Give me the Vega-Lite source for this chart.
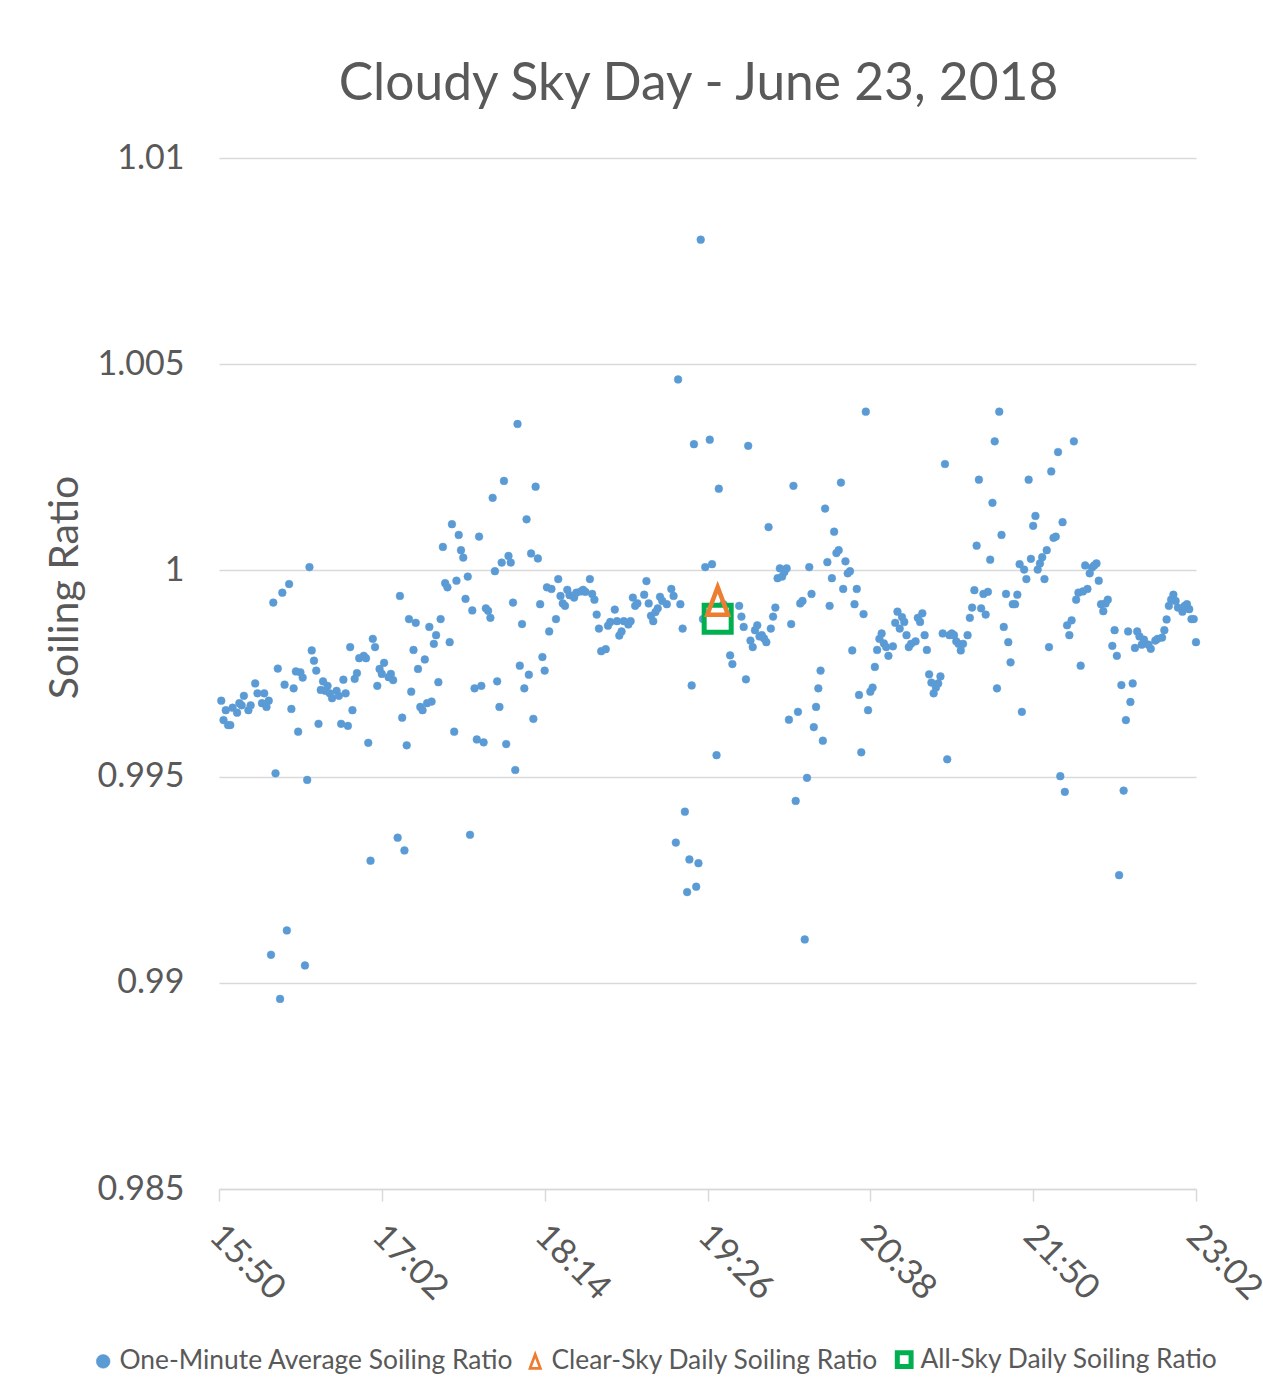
{
  "$schema": "https://vega.github.io/schema/vega-lite/v6.json",
  "width": 977,
  "height": 1031,
  "autosize": {"type": "none"},
  "padding": {"left": 219, "top": 158, "right": 67, "bottom": 204},
  "background": "white",
  "title": {"text": "Cloudy Sky Day - June 23, 2018", "font": "Lato", "fontSize": 51.5, "fontWeight": "normal", "color": "#595959", "anchor": "middle", "offset": 31, "dx": -9},
  "config": {"view": {"stroke": null}, "font": "Lato"},
  "datasets": {
    "minute": [
      {"t":951,"v":0.99684},{"t":952,"v":0.99637},{"t":953,"v":0.99661},{"t":954,"v":0.99625},{"t":955,"v":0.99625},{"t":956,"v":0.99667},{"t":958,"v":0.99655},{"t":959,"v":0.99678},{"t":960,"v":0.99673},{"t":961,"v":0.99696},{"t":963,"v":0.99661},{"t":964,"v":0.99673},{"t":966,"v":0.99726},{"t":967,"v":0.99702},{"t":969,"v":0.99678},{"t":970,"v":0.99702},{"t":971,"v":0.99669},{"t":972,"v":0.99684},{"t":973,"v":0.99068},{"t":974,"v":0.99922},{"t":975,"v":0.99508},{"t":976,"v":0.99762},{"t":977,"v":0.98961},{"t":978,"v":0.99946},{"t":979,"v":0.99723},{"t":980,"v":0.99127},{"t":981,"v":0.99967},{"t":982,"v":0.99664},{"t":983,"v":0.99714},{"t":984,"v":0.99755},{"t":985,"v":0.99609},{"t":986,"v":0.99753},{"t":987,"v":0.9974},{"t":988,"v":0.99042},{"t":989,"v":0.99492},{"t":990,"v":1.00008},{"t":991,"v":0.99806},{"t":992,"v":0.99781},{"t":993,"v":0.99757},{"t":994,"v":0.99628},{"t":995,"v":0.9971},{"t":996,"v":0.99731},{"t":997,"v":0.99708},{"t":998,"v":0.9972},{"t":999,"v":0.99702},{"t":1000,"v":0.9969},{"t":1002,"v":0.99708},{"t":1003,"v":0.99696},{"t":1004,"v":0.99628},{"t":1005,"v":0.99735},{"t":1006,"v":0.99702},{"t":1007,"v":0.99623},{"t":1008,"v":0.99814},{"t":1009,"v":0.99661},{"t":1010,"v":0.99737},{"t":1011,"v":0.99751},{"t":1012,"v":0.99787},{"t":1014,"v":0.99793},{"t":1015,"v":0.99787},{"t":1016,"v":0.99582},{"t":1017,"v":0.99296},{"t":1018,"v":0.99834},{"t":1019,"v":0.99814},{"t":1020,"v":0.9972},{"t":1021,"v":0.99761},
      {"t":1022,"v":0.99749},{"t":1023,"v":0.99776},{"t":1025,"v":0.99741},{"t":1026,"v":0.99749},{"t":1027,"v":0.99734},{"t":1029,"v":0.99352},{"t":1030,"v":0.99938},{"t":1031,"v":0.99643},{"t":1032,"v":0.99321},{"t":1033,"v":0.99576},{"t":1034,"v":0.99882},{"t":1035,"v":0.99706},{"t":1036,"v":0.99807},{"t":1037,"v":0.99873},{"t":1038,"v":0.99761},{"t":1039,"v":0.99669},{"t":1040,"v":0.99661},{"t":1041,"v":0.99784},{"t":1042,"v":0.99678},{"t":1043,"v":0.99863},{"t":1044,"v":0.99682},{"t":1045,"v":0.99822},{"t":1046,"v":0.99843},{"t":1047,"v":0.99729},{"t":1048,"v":0.99882},{"t":1049,"v":1.00057},{"t":1050,"v":0.99969},{"t":1051,"v":0.99959},{"t":1052,"v":0.99826},{"t":1053,"v":1.00112},{"t":1054,"v":0.99609},{"t":1055,"v":0.99975},{"t":1056,"v":1.00086},{"t":1057,"v":1.00049},{"t":1058,"v":1.00031},{"t":1059,"v":0.99931},{"t":1060,"v":0.99985},{"t":1061,"v":0.99359},{"t":1062,"v":0.99903},{"t":1063,"v":0.99714},{"t":1064,"v":0.9959},{"t":1065,"v":1.00082},{"t":1066,"v":0.9972},{"t":1067,"v":0.99583},{"t":1068,"v":0.99908},{"t":1069,"v":0.99902},{"t":1070,"v":0.99885},{"t":1071,"v":1.00176},{"t":1072,"v":0.99998},{"t":1073,"v":0.99731},{"t":1074,"v":0.99669},{"t":1075,"v":1.00019},{"t":1076,"v":1.00217},{"t":1077,"v":0.99579},{"t":1078,"v":1.00035},{"t":1079,"v":1.00019},{"t":1080,"v":0.99922},{"t":1081,"v":0.99516},{"t":1082,"v":1.00355},{"t":1083,"v":0.99769},{"t":1084,"v":0.9987},{"t":1085,"v":0.99714},{"t":1086,"v":1.00124},{"t":1087,"v":0.99747},{"t":1088,"v":1.00041},{"t":1089,"v":0.9964},{"t":1090,"v":1.00203},{"t":1091,"v":1.00029},{"t":1092,"v":0.99918},{"t":1093,"v":0.9979},{"t":1094,"v":0.99757},
      {"t":1095,"v":0.99959},{"t":1096,"v":0.99852},{"t":1097,"v":0.99955},{"t":1099,"v":0.99882},{"t":1100,"v":0.99979},{"t":1101,"v":0.99938},{"t":1102,"v":0.9992},{"t":1103,"v":0.99914},{"t":1104,"v":0.99953},{"t":1105,"v":0.9994},{"t":1107,"v":0.99934},{"t":1108,"v":0.99946},{"t":1110,"v":0.99949},{"t":1111,"v":0.99953},{"t":1112,"v":0.99948},{"t":1114,"v":0.99979},{"t":1115,"v":0.99943},{"t":1116,"v":0.99929},{"t":1117,"v":0.99893},{"t":1118,"v":0.99859},{"t":1119,"v":0.99804},{"t":1121,"v":0.99809},{"t":1122,"v":0.99866},{"t":1123,"v":0.99875},{"t":1125,"v":0.99905},{"t":1126,"v":0.99877},{"t":1127,"v":0.99842},{"t":1128,"v":0.99852},{"t":1129,"v":0.99877},{"t":1131,"v":0.99869},{"t":1132,"v":0.99877},{"t":1133,"v":0.99934},{"t":1134,"v":0.99914},{"t":1135,"v":0.9992},{"t":1138,"v":0.99941},{"t":1139,"v":0.99974},{"t":1140,"v":0.9992},{"t":1141,"v":0.9989},{"t":1142,"v":0.99877},{"t":1143,"v":0.99899},{"t":1144,"v":0.99908},{"t":1145,"v":0.99936},{"t":1146,"v":0.99926},{"t":1148,"v":0.99918},{"t":1150,"v":0.99955},{"t":1151,"v":0.99938},{"t":1152,"v":0.9934},{"t":1153,"v":1.00463},{"t":1154,"v":0.99918},{"t":1155,"v":0.99859},{"t":1156,"v":0.99415},{"t":1157,"v":0.9922},{"t":1158,"v":0.99299},{"t":1159,"v":0.99721},{"t":1160,"v":1.00306},{"t":1161,"v":0.99233},{"t":1162,"v":0.9929},{"t":1163,"v":1.00802},{"t":1164,"v":0.99882},
      {"t":1165,"v":1.00008},{"t":1167,"v":1.00317},{"t":1168,"v":1.00015},{"t":1170,"v":0.99552},{"t":1171,"v":1.00198},{"t":1172,"v":0.99882},{"t":1173,"v":0.99918},{"t":1176,"v":0.99794},{"t":1177,"v":0.99773},{"t":1180,"v":0.99914},{"t":1181,"v":0.99888},{"t":1182,"v":0.99863},{"t":1183,"v":0.99736},{"t":1184,"v":1.00302},{"t":1185,"v":0.9983},{"t":1186,"v":0.99814},{"t":1187,"v":0.99855},{"t":1188,"v":0.99867},{"t":1189,"v":0.9984},{"t":1190,"v":0.99843},{"t":1191,"v":0.99835},{"t":1192,"v":0.99826},{"t":1193,"v":1.00105},{"t":1194,"v":0.99859},{"t":1195,"v":0.99888},{"t":1196,"v":0.9991},{"t":1197,"v":0.99981},{"t":1198,"v":1.00005},{"t":1199,"v":0.99985},{"t":1200,"v":0.99996},{"t":1201,"v":1.00005},{"t":1202,"v":0.99638},{"t":1203,"v":0.9987},{"t":1204,"v":1.00205},{"t":1205,"v":0.99441},{"t":1206,"v":0.99657},{"t":1207,"v":0.9992},{"t":1208,"v":0.99926},{"t":1209,"v":0.99105},{"t":1210,"v":0.99497},{"t":1211,"v":1.00008},{"t":1212,"v":0.99943},{"t":1213,"v":0.9962},{"t":1214,"v":0.99669},{"t":1215,"v":0.99714},{"t":1216,"v":0.99757},{"t":1217,"v":0.99587},{"t":1218,"v":1.0015},{"t":1219,"v":1.0002},{"t":1220,"v":0.99914},{"t":1221,"v":0.99981},{"t":1222,"v":1.00094},{"t":1223,"v":1.00042},{"t":1224,"v":1.00049},{"t":1225,"v":1.00213},{"t":1226,"v":0.99955},{"t":1227,"v":1.00022},{"t":1228,"v":0.99993},{"t":1229,"v":0.99998},{"t":1230,"v":0.99806},{"t":1231,"v":0.99918},{"t":1232,"v":0.99955},{"t":1233,"v":0.99698},{"t":1234,"v":0.99559},{"t":1235,"v":0.99894},
      {"t":1236,"v":1.00385},{"t":1237,"v":0.99661},{"t":1238,"v":0.99706},{"t":1239,"v":0.99716},{"t":1240,"v":0.99766},{"t":1241,"v":0.99807},{"t":1242,"v":0.99834},{"t":1243,"v":0.99847},{"t":1244,"v":0.99823},{"t":1245,"v":0.99814},{"t":1246,"v":0.99793},{"t":1248,"v":0.99816},{"t":1249,"v":0.99873},{"t":1250,"v":0.999},{"t":1251,"v":0.99859},{"t":1252,"v":0.99887},{"t":1253,"v":0.99875},{"t":1254,"v":0.99843},{"t":1255,"v":0.99814},{"t":1256,"v":0.99822},{"t":1258,"v":0.99828},{"t":1259,"v":0.99885},{"t":1260,"v":0.99875},{"t":1261,"v":0.99896},{"t":1262,"v":0.99843},{"t":1263,"v":0.99807},{"t":1264,"v":0.99748},{"t":1265,"v":0.99728},{"t":1266,"v":0.99702},{"t":1267,"v":0.99716},{"t":1268,"v":0.99726},{"t":1269,"v":0.99743},{"t":1270,"v":0.99847},{"t":1271,"v":1.00258},{"t":1272,"v":0.99542},{"t":1273,"v":0.99843},{"t":1274,"v":0.99847},{"t":1275,"v":0.99843},{"t":1276,"v":0.99828},{"t":1277,"v":0.99822},{"t":1278,"v":0.99806},{"t":1279,"v":0.99822},{"t":1281,"v":0.99843},{"t":1282,"v":0.99885},{"t":1283,"v":0.9991},{"t":1284,"v":0.99952},{"t":1285,"v":1.0006},{"t":1286,"v":1.0022},{"t":1287,"v":0.99908},{"t":1288,"v":0.99943},{"t":1289,"v":0.99893},{"t":1290,"v":0.99948},{"t":1291,"v":1.00026},{"t":1292,"v":1.00164},{"t":1293,"v":1.00313},{"t":1294,"v":0.99714},{"t":1295,"v":1.00385},{"t":1296,"v":1.00086},{"t":1297,"v":0.99863},{"t":1298,"v":0.99943},{"t":1299,"v":0.99826},{"t":1300,"v":0.99777},{"t":1301,"v":0.99918},{"t":1302,"v":0.99918},{"t":1303,"v":0.99941},{"t":1304,"v":1.00015},{"t":1305,"v":0.99657},
      {"t":1306,"v":1.00002},{"t":1307,"v":0.99979},{"t":1308,"v":1.0022},{"t":1309,"v":1.00028},{"t":1310,"v":1.00108},{"t":1311,"v":1.00132},{"t":1312,"v":1.00002},{"t":1313,"v":1.00017},{"t":1314,"v":1.00032},{"t":1315,"v":0.99979},{"t":1316,"v":1.00049},{"t":1317,"v":0.99814},{"t":1318,"v":1.0024},{"t":1319,"v":1.00079},{"t":1320,"v":1.00082},{"t":1321,"v":1.00287},{"t":1322,"v":0.99501},{"t":1323,"v":1.00117},{"t":1324,"v":0.99463},{"t":1325,"v":0.99867},{"t":1326,"v":0.99843},{"t":1327,"v":0.99879},{"t":1328,"v":1.00313},{"t":1329,"v":0.99929},{"t":1330,"v":0.99946},{"t":1331,"v":0.99769},{"t":1332,"v":0.99949},{"t":1333,"v":1.00012},{"t":1334,"v":0.99955},{"t":1335,"v":0.99993},{"t":1336,"v":1.00007},{"t":1337,"v":1.00012},{"t":1338,"v":1.00017},{"t":1339,"v":0.99975},{"t":1340,"v":0.99918},{"t":1341,"v":0.99901},{"t":1342,"v":0.9992},{"t":1343,"v":0.99929},{"t":1345,"v":0.99817},{"t":1346,"v":0.99855},{"t":1347,"v":0.99793},{"t":1348,"v":0.99261},{"t":1349,"v":0.99722},{"t":1350,"v":0.99466},{"t":1351,"v":0.99637},{"t":1352,"v":0.99852},{"t":1353,"v":0.99681},{"t":1354,"v":0.99726},{"t":1355,"v":0.99812},{"t":1356,"v":0.99852},{"t":1357,"v":0.9984},{"t":1358,"v":0.9982},{"t":1359,"v":0.99832},{"t":1361,"v":0.9982},{"t":1362,"v":0.9981},{"t":1364,"v":0.9983},{"t":1365,"v":0.99834},{"t":1367,"v":0.99837},{"t":1368,"v":0.99855},{"t":1369,"v":0.99881},{"t":1370,"v":0.99914},{"t":1371,"v":0.99929},{"t":1372,"v":0.99941},{"t":1373,"v":0.99926},{"t":1374,"v":0.9991},{"t":1376,"v":0.999},{"t":1377,"v":0.99914},{"t":1378,"v":0.99918},{"t":1379,"v":0.99906},{"t":1380,"v":0.99882},{"t":1381,"v":0.99882},{"t":1382,"v":0.99826}
    ],
    "clear": [{"t":1170.5,"v":0.99926}],
    "allsky": [{"t":1170.5,"v":0.99883}]
  },
  "encoding": {
    "x": {"field": "t", "type": "quantitative",
      "scale": {"domain": [950, 1382], "nice": false, "zero": false},
      "axis": {"title": null, "values": [950, 1022, 1094, 1166, 1238, 1310, 1382],
        "labelExpr": "floor(datum.value/60) + ':' + (datum.value%60 < 10 ? '0' : '') + (datum.value%60)",
        "labelAngle": 45, "labelAlign": "left", "labelBaseline": "top", "labelFontSize": 35, "labelColor": "#595959", "labelFont": "Lato",
        "labelPadding": 17, "labelOffset": 8, "tickSize": 12, "tickColor": "#d9d9d9", "tickWidth": 1.5, "domainColor": "#d9d9d9", "domainWidth": 1.5, "grid": false, "labelOverlap": false, "labelFlush": false}},
    "y": {"field": "v", "type": "quantitative",
      "scale": {"domain": [0.985, 1.01], "nice": false, "zero": false},
      "axis": {"title": "Soiling Ratio", "values": [0.985, 0.99, 0.995, 1, 1.005, 1.01], "format": "~g",
        "labelFontSize": 34, "labelColor": "#595959", "labelFont": "Lato", "labelPadding": 35, "ticks": false, "domain": false,
        "gridColor": "#d9d9d9", "gridWidth": 1.3,
        "titleFontSize": 41, "titleFont": "Lato", "titleFontWeight": "normal", "titleColor": "#595959",
        "titleX": -142, "titleY": 429, "titleAngle": -90, "titleAlign": "center", "titleBaseline": "alphabetic"}}
  },
  "layer": [
    {"data": {"name": "minute"},
     "mark": {"type": "point", "filled": false, "fillOpacity": 1, "size": 60, "opacity": 1},
     "encoding": {
       "color": {"datum": "One-Minute Average Soiling Ratio", "type": "nominal",
         "scale": {"domain": ["One-Minute Average Soiling Ratio", "Clear-Sky Daily Soiling Ratio", "All-Sky Daily Soiling Ratio"], "range": ["#5B9BD5", "#ED7D31", "#00B050"]},
         "legend": {"title": null, "orient": "none", "legendX": -129, "legendY": 1188, "direction": "horizontal",
           "labelFontSize": 26.4, "labelFont": "Lato", "labelColor": "#595959", "labelOffset": 3, "labelLimit": 600, "columnPadding": 8, "symbolSize": 190, "padding": 0}},
       "fill": {"datum": "One-Minute Average Soiling Ratio", "type": "nominal",
         "scale": {"domain": ["One-Minute Average Soiling Ratio", "Clear-Sky Daily Soiling Ratio", "All-Sky Daily Soiling Ratio"], "range": ["#5B9BD5", "transparent", "#ffffff"]},
         "legend": {"title": null, "orient": "none", "legendX": -129, "legendY": 1188, "direction": "horizontal",
           "labelFontSize": 26.4, "labelFont": "Lato", "labelColor": "#595959", "labelOffset": 3, "labelLimit": 600, "columnPadding": 8, "symbolSize": 190, "padding": 0}},
       "strokeWidth": {"datum": "One-Minute Average Soiling Ratio", "type": "nominal",
         "scale": {"domain": ["One-Minute Average Soiling Ratio", "Clear-Sky Daily Soiling Ratio", "All-Sky Daily Soiling Ratio"], "range": [0.5, 5]},
         "legend": {"title": null, "orient": "none", "legendX": -129, "legendY": 1188, "direction": "horizontal",
           "labelFontSize": 26.4, "labelFont": "Lato", "labelColor": "#595959", "labelOffset": 3, "labelLimit": 600, "columnPadding": 8, "symbolSize": 190, "padding": 0}},
       "shape": {"datum": "One-Minute Average Soiling Ratio", "type": "nominal",
         "scale": {"domain": ["One-Minute Average Soiling Ratio", "Clear-Sky Daily Soiling Ratio", "All-Sky Daily Soiling Ratio"], "range": ["circle", "M0,-1L0.75,1L-0.75,1Z", "square"]},
         "legend": {"title": null, "orient": "none", "legendX": -129, "legendY": 1188, "direction": "horizontal",
           "labelFontSize": 26.4, "labelFont": "Lato", "labelColor": "#595959", "labelOffset": 3, "labelLimit": 600, "columnPadding": 8, "symbolSize": 190, "padding": 0}}
     }},
    {"data": {"name": "allsky"},
     "mark": {"type": "point", "filled": false, "fillOpacity": 1, "size": 730, "strokeWidth": 5, "opacity": 1},
     "encoding": {
       "color": {"datum": "All-Sky Daily Soiling Ratio", "type": "nominal"},
       "fill": {"datum": "All-Sky Daily Soiling Ratio", "type": "nominal"},
       "shape": {"datum": "All-Sky Daily Soiling Ratio", "type": "nominal"}
     }},
    {"data": {"name": "clear"},
     "mark": {"type": "point", "filled": false, "fillOpacity": 1, "size": 760, "strokeWidth": 4.5, "opacity": 1},
     "encoding": {
       "color": {"datum": "Clear-Sky Daily Soiling Ratio", "type": "nominal"},
       "fill": {"datum": "Clear-Sky Daily Soiling Ratio", "type": "nominal"},
       "shape": {"datum": "Clear-Sky Daily Soiling Ratio", "type": "nominal"}
     }}
  ]
}
